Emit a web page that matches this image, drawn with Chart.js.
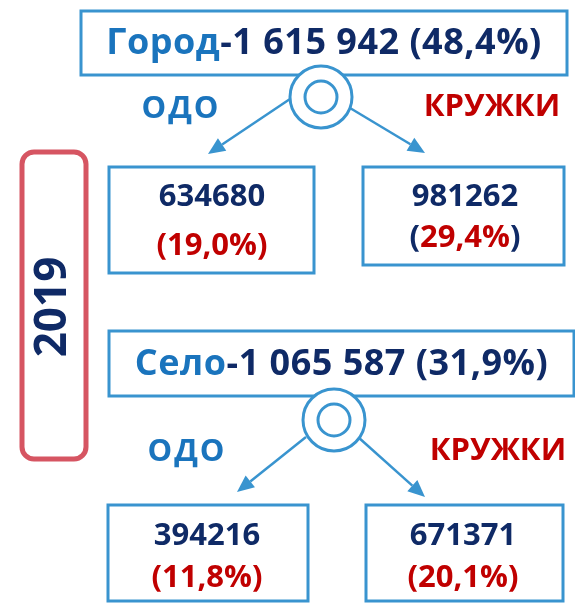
<!DOCTYPE html>
<html>
<head>
<meta charset="utf-8">
<script src="https://cdn.jsdelivr.net/npm/chart.js@4.4.1/dist/chart.umd.min.js"></script>
<style>
    html, body { margin: 0; padding: 0; background: #ffffff; }
    #wrap { width: 575px; height: 603px; position: relative; }
</style>
</head>
<body>
<div id="wrap"><canvas id="scheme"></canvas></div>
<script>
// data
const groups = ["Город", "Село"];
const groupTotals = [1615942, 1065587];
const groupShares = [48.4, 31.9];
const branches = ["ОДО", "КРУЖКИ"];
const odoValues = [634680, 394216];
const odoShares = [19.0, 11.8];
const kruzhkiValues = [981262, 671371];
const kruzhkiShares = [29.4, 20.1];
const yearLabel = "2019";

const colors = {
    navy: "#0f2a66",
    blue: "#1a74bd",
    red: "#c00000",
    frame: "#3994cf",
    yearFrame: "#d65562",
};

const FONT = "'Open Sans', 'DejaVu Sans', sans-serif";

// layout of the scheme, in page units (mapped through the chart scales)
const layout = {
    groupBox: [
        { x0: 81, y0: 11, x1: 567, y1: 75, ty: 44 },
        { x0: 109, y0: 331, x1: 574, y1: 396, ty: 365 },
    ],
    hub: [{ x: 321, y: 97 }, { x: 334, y: 420 }],
    branchLabel: [
        [{ x: 181, y: 109 }, { x: 492, y: 107 }],
        [{ x: 187, y: 452 }, { x: 498, y: 451 }],
    ],
    arrows: [
        [[290, 99, 208, 154], [350, 108, 425, 153]],
        [[306, 437, 237, 492], [358, 437, 425, 497]],
    ],
    leafBox: [
        [{ x0: 109, y0: 167, x1: 314, y1: 273 }, { x0: 363, y0: 167, x1: 564, y1: 265 }],
        [{ x0: 108, y0: 505, x1: 308, y1: 601 }, { x0: 366, y0: 505, x1: 563, y1: 601 }],
    ],
    leafText: [
        [{ x: 212, vy: 197, sy: 246 }, { x: 465, vy: 197, sy: 238 }],
        [{ x: 207, vy: 536, sy: 578 }, { x: 463, vy: 536, sy: 578 }],
    ],
    yearBox: { x0: 22, y0: 152, x1: 86, y1: 459, r: 12, tx: 53, ty: 307 },
};

function formatTotal(value) {
    return String(value).replace(/\B(?=(\d{3})+(?!\d))/g, " ");
}

function formatShare(value) {
    return value.toFixed(1).replace(".", ",") + "%";
}

function drawSegments(ctx, segments, cx, cy, font, spacing = "0px") {
    ctx.font = font;
    ctx.letterSpacing = spacing;
    ctx.textBaseline = "middle";
    ctx.textAlign = "left";
    const total = segments.reduce((sum, s) => sum + ctx.measureText(s.text).width, 0);
    let x = cx - total / 2;
    segments.forEach((s) => {
        ctx.fillStyle = s.color;
        ctx.fillText(s.text, x, cy);
        x += ctx.measureText(s.text).width;
    });
    ctx.letterSpacing = "0px";
}

function drawArrow(ctx, x0, y0, x1, y1) {
    const angle = Math.atan2(y1 - y0, x1 - x0);
    const head = 17;
    const half = 7.5;
    const bx = x1 - head * Math.cos(angle);
    const by = y1 - head * Math.sin(angle);
    ctx.beginPath();
    ctx.moveTo(x0, y0);
    ctx.lineTo(bx, by);
    ctx.stroke();
    ctx.beginPath();
    ctx.moveTo(x1, y1);
    ctx.lineTo(bx + half * Math.sin(angle), by - half * Math.cos(angle));
    ctx.lineTo(bx - half * Math.sin(angle), by + half * Math.cos(angle));
    ctx.closePath();
    ctx.fill();
}

const schemeFrames = {
    id: "schemeFrames",
    beforeDatasetsDraw(chart) {
        const { ctx, scales } = chart;
        const px = (v) => scales.x.getPixelForValue(v);
        const py = (v) => scales.y.getPixelForValue(v);
        ctx.save();

        // year frame
        const yb = layout.yearBox;
        ctx.strokeStyle = colors.yearFrame;
        ctx.lineWidth = 5;
        ctx.beginPath();
        ctx.roundRect(px(yb.x0), py(yb.y0), px(yb.x1) - px(yb.x0), py(yb.y1) - py(yb.y0), yb.r);
        ctx.stroke();

        ctx.strokeStyle = colors.frame;
        ctx.fillStyle = colors.frame;
        ctx.lineWidth = 3;
        groups.forEach((_, g) => {
            const b = layout.groupBox[g];
            ctx.strokeRect(px(b.x0), py(b.y0), px(b.x1) - px(b.x0), py(b.y1) - py(b.y0));
            layout.leafBox[g].forEach((lb) => {
                ctx.strokeRect(px(lb.x0), py(lb.y0), px(lb.x1) - px(lb.x0), py(lb.y1) - py(lb.y0));
            });
        });

        ctx.lineWidth = 2.5;
        layout.arrows.forEach((pair) => {
            pair.forEach((a) => drawArrow(ctx, px(a[0]), py(a[1]), px(a[2]), py(a[3])));
        });
        ctx.restore();
    },
    afterDatasetsDraw(chart) {
        const { ctx, scales } = chart;
        const px = (v) => scales.x.getPixelForValue(v);
        const py = (v) => scales.y.getPixelForValue(v);
        ctx.save();

        groups.forEach((name, g) => {
            const b = layout.groupBox[g];
            drawSegments(ctx, [
                { text: name, color: colors.blue },
                { text: "-" + formatTotal(groupTotals[g]) + " (" + formatShare(groupShares[g]) + ")", color: colors.navy },
            ], px((b.x0 + b.x1) / 2), py(b.ty), "bold 36px " + FONT, "0.5px");

            branches.forEach((branch, i) => {
                const p = layout.branchLabel[g][i];
                drawSegments(ctx, [{ text: branch, color: i === 0 ? colors.blue : colors.red }],
                    px(p.x), py(p.y), "bold 31px " + FONT, i === 0 ? "2px" : "0px");
            });

            const leafValues = [odoValues[g], kruzhkiValues[g]];
            const leafShares = [odoShares[g], kruzhkiShares[g]];
            leafValues.forEach((value, i) => {
                const t = layout.leafText[g][i];
                drawSegments(ctx, [{ text: String(value), color: colors.navy }], px(t.x), py(t.vy), "bold 31px " + FONT);
                const navyParens = g === 0 && i === 1;
                const pc = navyParens ? colors.navy : colors.red;
                drawSegments(ctx, [
                    { text: "(", color: pc },
                    { text: formatShare(leafShares[i]), color: colors.red },
                    { text: ")", color: pc },
                ], px(t.x), py(t.sy), "bold 31px " + FONT);
            });
        });

        const yb = layout.yearBox;
        ctx.translate(px(yb.tx), py(yb.ty));
        ctx.rotate(-Math.PI / 2);
        drawSegments(ctx, [{ text: yearLabel, color: colors.navy }], 0, 0, "bold 44px " + FONT);
        ctx.restore();
    },
};

const hubPoints = layout.hub.map((h) => ({ x: h.x, y: h.y }));

new Chart(document.getElementById("scheme"), {
    type: "scatter",
    data: {
        datasets: [
            {
                label: "hub-inner",
                data: hubPoints,
                order: 0,
                pointRadius: 16,
                pointBorderWidth: 3,
                pointBackgroundColor: "#ffffff",
                pointBorderColor: colors.frame,
            },
            {
                label: "hub",
                data: hubPoints,
                order: 1,
                pointRadius: 31,
                pointBorderWidth: 3,
                pointBackgroundColor: "#ffffff",
                pointBorderColor: colors.frame,
            },
        ],
    },
    options: {
        responsive: true,
        maintainAspectRatio: false,
        animation: false,
        events: [],
        layout: { padding: 0, autoPadding: false },
        plugins: { legend: { display: false }, tooltip: { enabled: false } },
        scales: {
            x: { type: "linear", min: 0, max: 575, display: false },
            y: { type: "linear", min: 0, max: 603, reverse: true, display: false },
        },
    },
    plugins: [schemeFrames],
});
</script>
</body>
</html>
